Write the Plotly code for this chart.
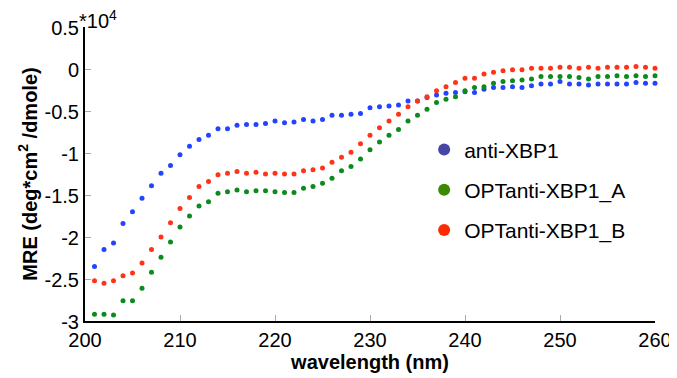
import plotly.graph_objects as go

wavelength = list(range(201, 261))

anti_xbp1 = [-2.35, -2.15, -2.07, -1.84, -1.70, -1.54, -1.39, -1.24, -1.15, -1.02,
             -0.92, -0.84, -0.79, -0.71, -0.71, -0.67, -0.66, -0.66, -0.65, -0.62,
             -0.64, -0.63, -0.60, -0.62, -0.60, -0.55, -0.55, -0.54, -0.53, -0.46,
             -0.45, -0.44, -0.43, -0.38, -0.38, -0.34, -0.31, -0.29, -0.28, -0.27,
             -0.28, -0.24, -0.22, -0.22, -0.21, -0.22, -0.20, -0.18, -0.18, -0.15,
             -0.18, -0.18, -0.19, -0.18, -0.18, -0.18, -0.18, -0.16, -0.17, -0.17]

optanti_xbp1_a = [-2.92, -2.92, -2.93, -2.76, -2.76, -2.61, -2.42, -2.24, -2.06, -1.88,
                  -1.75, -1.63, -1.58, -1.48, -1.46, -1.44, -1.46, -1.45, -1.45, -1.46,
                  -1.47, -1.47, -1.42, -1.40, -1.36, -1.30, -1.21, -1.16, -1.07, -0.96,
                  -0.87, -0.79, -0.72, -0.62, -0.55, -0.48, -0.40, -0.36, -0.33, -0.26,
                  -0.22, -0.21, -0.17, -0.15, -0.14, -0.13, -0.12, -0.09, -0.09, -0.09,
                  -0.09, -0.10, -0.12, -0.09, -0.09, -0.08, -0.09, -0.08, -0.09, -0.08]

optanti_xbp1_b = [-2.52, -2.55, -2.52, -2.46, -2.43, -2.31, -2.15, -2.00, -1.83, -1.66,
                  -1.53, -1.40, -1.34, -1.26, -1.24, -1.22, -1.24, -1.23, -1.25, -1.24,
                  -1.25, -1.25, -1.21, -1.20, -1.18, -1.11, -1.05, -0.99, -0.89, -0.79,
                  -0.70, -0.62, -0.54, -0.45, -0.38, -0.33, -0.26, -0.21, -0.16, -0.11,
                  -0.11, -0.06, -0.04, -0.02, -0.01, -0.01, 0.01, 0.01, 0.01, 0.02,
                  0.02, 0.01, 0.02, 0.01, 0.02, 0.02, 0.02, 0.03, 0.02, 0.01]

series_names = ["anti-XBP1", "OPTanti-XBP1_A", "OPTanti-XBP1_B"]
dot_colors = ["#2244ff", "#0c8a1c", "#ff3318"]
legend_colors = ["#4646a8", "#3d8a00", "#ff2a00"]

x_ticks = [200, 210, 220, 230, 240, 250, 260]
y_ticks = [0.5, 0, -0.5, -1, -1.5, -2, -2.5, -3]
y_tick_text = ["0.5", "0", "-0.5", "-1", "-1.5", "-2", "-2.5", "-3"]

FONT = "Liberation Sans, Arial, sans-serif"

fig = go.Figure()
for name, ys, c in zip(series_names, [anti_xbp1, optanti_xbp1_a, optanti_xbp1_b], dot_colors):
    fig.add_trace(go.Scatter(x=wavelength, y=ys, mode="markers", name=name,
                             marker=dict(color=c, size=5, line=dict(width=0)),
                             showlegend=False, cliponaxis=False))
for i, (name, c) in enumerate(zip(series_names, legend_colors)):
    fig.add_trace(go.Scatter(x=[None], y=[None], mode="markers", name=name,
                             legendgroup=f"g{i}",
                             marker=dict(color=c, size=12, line=dict(width=0))))

# page body has an 8px margin, so the figure is 8px smaller and offset accordingly
fig.update_layout(
    width=669, height=370,
    margin=dict(l=77, r=22, t=19, b=52),
    plot_bgcolor="white", paper_bgcolor="white",
    font=dict(family=FONT, color="black", size=20),
    legend=dict(x=0.595, y=0.652, xanchor="left", yanchor="top",
                traceorder="grouped", tracegroupgap=10,
                font=dict(size=21, family=FONT), bgcolor="rgba(0,0,0,0)",
                itemwidth=30),
    xaxis=dict(range=[200, 260], tickvals=x_ticks, ticks="inside", ticklen=6,
               tickcolor="#aaaaaa", showline=True, linecolor="black", linewidth=2,
               showgrid=False, zeroline=False, tickfont=dict(size=20),
               ticklabeloverflow="allow", automargin="height",
               title=dict(text="<b>wavelength (nm)</b>", font=dict(size=20), standoff=1)),
    yaxis=dict(range=[-3, 0.5], tickvals=y_ticks, ticktext=y_tick_text, ticks="inside",
               ticklen=6, tickcolor="#aaaaaa", showline=True, linecolor="black",
               linewidth=2, showgrid=False, zeroline=False, tickfont=dict(size=20),
               ticklabelshift=1, automargin="width",
               title=dict(text="<b>MRE (deg*cm<sup>2</sup> /dmole)</b>", font=dict(size=20),
                          standoff=2)),
    annotations=[dict(text="*10<sup>4</sup>", xref="paper", yref="paper", x=0, y=1,
                      xanchor="left", yanchor="bottom", showarrow=False,
                      font=dict(size=20, family=FONT), xshift=-8, yshift=-7)],
)

fig.write_html("out.html")
